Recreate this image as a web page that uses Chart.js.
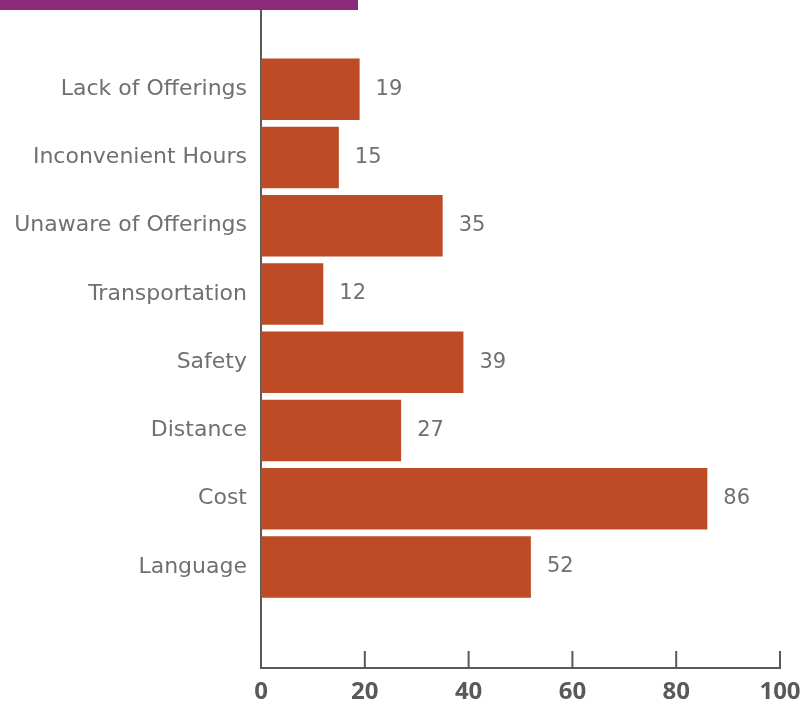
<!DOCTYPE html>
<html>
<head>
<meta charset="utf-8">
<script src="https://cdn.jsdelivr.net/npm/chart.js@4"></script>
<style>
  html, body { margin: 0; padding: 0; background: #fff; }
  #wrap { position: relative; width: 802px; height: 703px; }
  #band { position: absolute; left: 0; top: 0; width: 358px; height: 10px; background: #8a2b7a; }
</style>
</head>
<body>
<div id="wrap">
  <canvas id="grafico" width="802" height="703"></canvas>
  <div id="band"></div>
</div>
<script>
// Dados do gráfico (de cima para baixo)
const categorias = ['Lack of Offerings', 'Inconvenient Hours', 'Unaware of Offerings', 'Transportation',
                    'Safety', 'Distance', 'Cost', 'Language'];
const valores = [19, 15, 35, 12, 39, 27, 86, 52];
const ticksX = [0, 20, 40, 60, 80, 100];

const corBarra = '#bc4b26';
const corEixo = '#595959';

// Marcas do eixo X desenhadas para dentro, e rótulos de valor
const extras = {
  id: 'extras',
  afterDatasetsDraw(chart) {
    const ctx = chart.ctx;
    const x = chart.scales.x;
    const base = chart.chartArea.bottom;
    ctx.save();
    ctx.strokeStyle = corEixo;
    ctx.lineWidth = 2;
    ticksX.forEach(v => {
      const px = x.getPixelForValue(v);
      ctx.beginPath();
      ctx.moveTo(px, base);
      ctx.lineTo(px, base - 17);
      ctx.stroke();
    });
    ctx.fillStyle = '#707070';
    ctx.font = '21px "DejaVu Sans"';
    ctx.textBaseline = 'middle';
    ctx.textAlign = 'left';
    chart.getDatasetMeta(0).data.forEach((bar, i) => {
      ctx.fillText(String(valores[i]), bar.x + 16, bar.y);
    });
    ctx.restore();
  }
};

new Chart(document.getElementById('grafico').getContext('2d'), {
  type: 'bar',
  data: {
    datasets: [{
      data: valores.map((v, i) => ({ x: v, y: i })),
      backgroundColor: corBarra,
      borderWidth: 0,
      barPercentage: 0.9,
      categoryPercentage: 1
    }]
  },
  options: {
    indexAxis: 'y',
    responsive: false,
    animation: false,
    layout: { padding: 0 },
    plugins: { legend: { display: false }, tooltip: { enabled: false } },
    scales: {
      x: {
        type: 'linear',
        min: 0,
        max: 100,
        ticks: { stepSize: 20, color: corEixo, font: { family: 'Open Sans', size: 24, weight: 'bold' }, padding: 10 },
        grid: { display: false, drawTicks: false },
        border: { display: true, color: corEixo, width: 2 },
        afterFit(scale) {
          scale.height = 35;
          scale.paddingLeft = 0;
          scale.paddingRight = 22;
        }
      },
      y: {
        type: 'linear',
        reverse: true,
        offset: false,
        bounds: 'data',
        min: -1.16,
        max: 8.48,
        afterBuildTicks(scale) { scale.ticks = categorias.map((c, i) => ({ value: i })); },
        ticks: {
          autoSkip: false,
          color: '#707070',
          font: { family: 'DejaVu Sans', size: 22 },
          padding: 14,
          callback: (v) => categorias[v] || ''
        },
        grid: { display: false, drawTicks: false },
        border: { display: true, color: corEixo, width: 2 },
        afterFit(scale) {
          scale.width = 261;
          scale.paddingTop = 10;
          scale.paddingBottom = 0;
        }
      }
    }
  },
  plugins: [extras]
});
</script>
</body>
</html>
